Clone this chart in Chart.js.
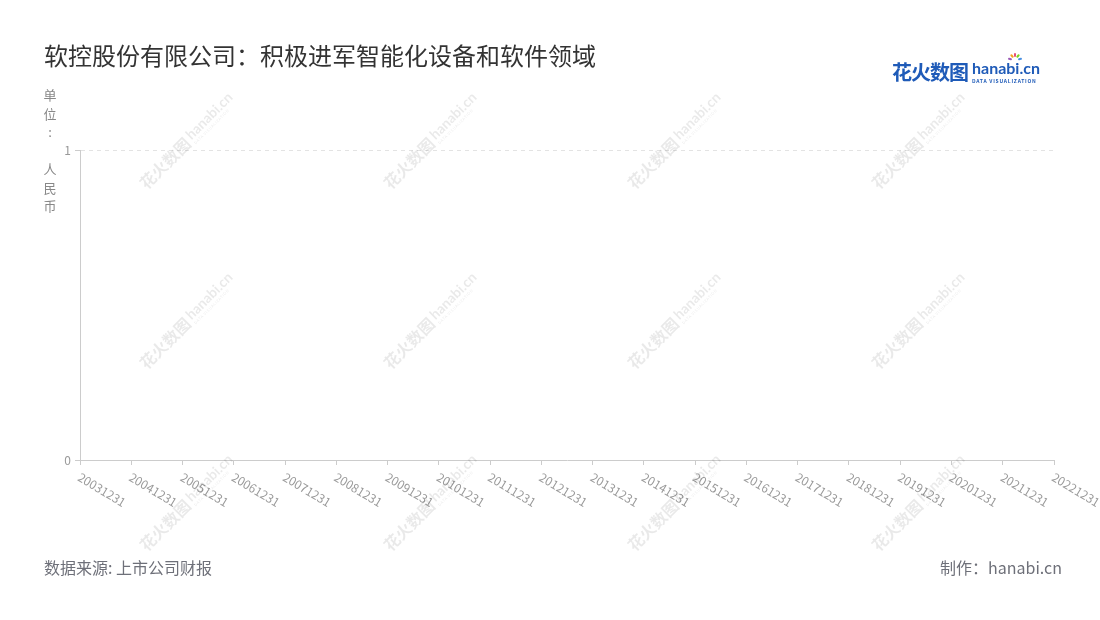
<!DOCTYPE html>
<html lang="zh">
<head>
  <meta charset="UTF-8" />
  <title>软控股份有限公司</title>
  <script src="https://cdn.jsdelivr.net/npm/chart.js"></script>
  <style>
    body { margin: 0; background: #fff; font-family: "Noto Sans CJK SC", "Noto Sans", sans-serif; }
    #wrap { position: relative; width: 1100px; height: 620px; overflow: hidden; }
    #chart { position: absolute; left: 0; top: 0; }
    .title { position: absolute; left: 44px; top: 37px; font-size: 24px; color: #333; white-space: nowrap; }
    .unit { position: absolute; left: 43px; top: 86px; width: 14px; font-size: 13px; line-height: 18.5px; color: #888; text-align: center; }
    .source { position: absolute; left: 44px; top: 555px; font-size: 16px; color: #6e7079; }
    .maker { position: absolute; right: 38px; top: 555px; font-size: 16px; color: #6e7079; }
    .logo { position: absolute; left: 892px; top: 57px; white-space: nowrap; }
    .logo .cn { font-size: 20px; font-weight: bold; color: #1f5bb8; letter-spacing: -1px; vertical-align: top; }
    .logo .en { display: inline-block; margin-left: 4px; vertical-align: top; line-height: 1; position: relative; }
    .logo .en b { display: block; font-family: "Lato", sans-serif; font-size: 16px; color: #1f5bb8; margin-top: 3px; }
    .logo .en small { display: block; font-size: 5px; color: #1f5bb8; letter-spacing: 0.75px; margin-top: 2px; font-weight: bold; }
    .spark { position: absolute; width: 2px; height: 4px; border-radius: 1px; }
    .wm { position: absolute; white-space: nowrap; transform: translate(-50%, -50%) rotate(-45deg); color: rgba(0,0,0,0.085); pointer-events: none; line-height: 1; }
    .wm .cn { font-size: 16px; font-weight: bold; vertical-align: middle; }
    .wm .en { display: inline-block; vertical-align: middle; margin-left: 3px; }
    .wm .en b { display: block; font-family: "Lato", sans-serif; font-size: 14px; }
    .wm .en small { display: block; font-size: 4px; letter-spacing: 0.5px; }
  </style>
</head>
<body>
  <div id="wrap">
    <canvas id="chart" width="1100" height="620"></canvas>
    <div class="title">软控股份有限公司：积极进军智能化设备和软件领域</div>
    <div class="unit">单<br>位<br>:<br>&nbsp;<br>人<br>民<br>币</div>
    <div class="logo"><span class="cn">花火数图</span><span class="en"><b>hanabi.cn</b><small>DATA VISUALIZATION</small>
      <i class="spark" style="left:39px;top:-3px;background:#f5a623;transform:rotate(-40deg)"></i>
      <i class="spark" style="left:42px;top:-4px;background:#e94e77"></i>
      <i class="spark" style="left:45px;top:-3px;background:#7ed321;transform:rotate(40deg)"></i>
      <i class="spark" style="left:47px;top:0px;background:#4a90e2;transform:rotate(80deg)"></i>
      <i class="spark" style="left:37px;top:0px;background:#9b59b6;transform:rotate(-80deg)"></i>
    </span></div>
    <div class="source">数据来源: 上市公司财报</div>
    <div class="maker">制作：hanabi.cn</div>
  </div>

  <script>
    const categories = ['20031231', '20041231', '20051231', '20061231', '20071231', '20081231', '20091231',
      '20101231', '20111231', '20121231', '20131231', '20141231', '20151231', '20161231', '20171231',
      '20181231', '20191231', '20201231', '20211231', '20221231'];
    // no values are shown in the picture
    const values = [null, null, null, null, null, null, null, null, null, null,
      null, null, null, null, null, null, null, null, null, null];
    const yTicks = [0, 1];

    // watermark grid
    const wrap = document.getElementById('wrap');
    [140, 320, 502].forEach(y => {
      [186, 430, 674, 918].forEach(x => {
        const d = document.createElement('div');
        d.className = 'wm';
        d.style.left = x + 'px';
        d.style.top = y + 'px';
        d.innerHTML = '<span class="cn">花火数图</span><span class="en"><b>hanabi.cn</b><small>DATA VISUALIZATION</small></span>';
        wrap.appendChild(d);
      });
    });

    // x labels are drawn going down-right from each tick
    const slantLabels = {
      id: 'slantLabels',
      afterDraw(chart) {
        const sx = chart.scales.x;
        const ctx = chart.ctx;
        ctx.save();
        ctx.font = '12px "Noto Sans CJK SC", sans-serif';
        ctx.fillStyle = '#999';
        ctx.textBaseline = 'middle';
        ctx.textAlign = 'left';
        categories.forEach((c, i) => {
          ctx.save();
          ctx.translate(sx.getPixelForTick(i) - 1, sx.top + 16);
          ctx.rotate(31 * Math.PI / 180);
          ctx.fillText(c, 0, 0);
          ctx.restore();
        });
        ctx.restore();
      }
    };

    new Chart(document.getElementById('chart'), {
      type: 'line',
      data: {
        labels: categories,
        datasets: [{ label: '人民币', data: values, borderColor: '#5470c6', pointRadius: 0 }]
      },
      options: {
        responsive: false,
        animation: false,
        layout: { padding: { left: 40, right: 46, top: 150, bottom: 0 } },
        plugins: { legend: { display: false }, tooltip: { enabled: false } },
        scales: {
          x: {
            offset: false,
            afterFit: s => { s.height = 160; },
            ticks: { display: false },
            grid: { drawOnChartArea: false, drawTicks: true, tickLength: 5, tickColor: '#ccc' },
            border: { color: '#ccc' }
          },
          y: {
            min: 0,
            max: 1,
            afterFit: s => { s.width = 40; },
            afterBuildTicks: s => { s.ticks = yTicks.map(v => ({ value: v })); },
            ticks: { color: '#999', font: { size: 12, family: '"Noto Sans CJK SC", sans-serif' }, padding: 4 },
            grid: { color: '#e3e3e3', tickColor: '#ccc', tickLength: 5, tickBorderDash: [] },
            border: { color: '#ccc', dash: [4, 4] }
          }
        }
      },
      plugins: [slantLabels]
    });
  </script>
</body>
</html>
